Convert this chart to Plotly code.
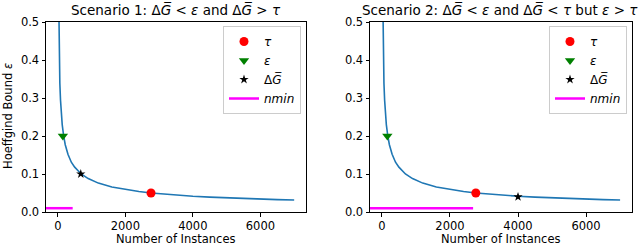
import plotly.graph_objects as go

# Hoeffding bound curve
curve_n = [18, 28, 40, 60, 80, 100, 130, 173, 220, 300, 400, 500, 691, 900,
           1200, 1600, 2000, 2400, 2763, 3200, 3600, 4000, 4500, 5000, 5500,
           6000, 6500, 7000]
curve_eps = [0.62, 0.497, 0.416, 0.339, 0.294, 0.263, 0.230, 0.200, 0.177,
             0.152, 0.131, 0.118, 0.100, 0.088, 0.076, 0.066, 0.059, 0.054,
             0.050, 0.0465, 0.0438, 0.0416, 0.0392, 0.0372, 0.0354, 0.0339,
             0.0326, 0.0314]

# Scenario 1 markers
s1_tau = (2760, 0.05)
s1_eps = (150, 0.2)
s1_dg = (680, 0.1)
s1_nmin_x = [-350, 440]
# Scenario 2 markers
s2_tau = (2760, 0.05)
s2_eps = (160, 0.2)
s2_dg = (4000, 0.04)
s2_nmin_x = [-350, 2680]
nmin_y = 0.01

titles = ["Scenario 1: Δ<i>G̅</i> < <i>ε</i> and Δ<i>G̅</i> > <i>τ</i>",
          "Scenario 2: Δ<i>G̅</i> < <i>ε</i> and Δ<i>G̅</i> < <i>τ</i> but <i>ε</i> > <i>τ</i>"]
x_title = "Number of Instances"
y_title = "Hoeffgind Bound <i>ε</i>"
x_ticks = [0, 2000, 4000, 6000]
y_ticks = [0.0, 0.1, 0.2, 0.3, 0.4, 0.5]

FONT = "DejaVu Sans"
W, H = 640, 247

fig = go.Figure()

scen = [
    (s1_tau, s1_eps, s1_dg, s1_nmin_x, "x", "y", "legend"),
    (s2_tau, s2_eps, s2_dg, s2_nmin_x, "x2", "y2", "legend2"),
]
for tau, eps, dg, nminx, xa, ya, lg in scen:
    fig.add_trace(go.Scatter(x=curve_n, y=curve_eps, mode="lines",
                             line=dict(color="#1f77b4", width=1.6),
                             showlegend=False, xaxis=xa, yaxis=ya, legend=lg))
    fig.add_trace(go.Scatter(x=[tau[0]], y=[tau[1]], mode="markers",
                             marker=dict(symbol="circle", color="red", size=9),
                             name="<i>τ</i>", xaxis=xa, yaxis=ya, legend=lg))
    fig.add_trace(go.Scatter(x=[eps[0]], y=[eps[1]], mode="markers",
                             marker=dict(symbol="triangle-down", color="green", size=9),
                             name="<i>ε</i>", xaxis=xa, yaxis=ya, legend=lg))
    fig.add_trace(go.Scatter(x=[dg[0]], y=[dg[1]], mode="markers",
                             marker=dict(symbol="star", color="black", size=7),
                             name="Δ<i>G̅</i>", xaxis=xa, yaxis=ya, legend=lg))
    fig.add_trace(go.Scatter(x=nminx, y=[nmin_y, nmin_y], mode="lines",
                             line=dict(color="magenta", width=2.5),
                             name="<i>nmin</i>", xaxis=xa, yaxis=ya, legend=lg))

ydom = [35 / H, 225 / H]
axis_common = dict(showline=True, linecolor="black", linewidth=1, mirror=True,
                   ticks="outside", ticklen=3.5, tickwidth=1, tickcolor="black",
                   showgrid=False, zeroline=False, automargin=False,
                   tickfont=dict(family=FONT, size=11.5, color="black"))

legend_common = dict(xanchor="right", yanchor="top",
                     bgcolor="rgba(255,255,255,0.8)", bordercolor="#cccccc",
                     borderwidth=1, font=dict(family=FONT, size=12),
                     itemwidth=30, tracegroupgap=0)

ann = []
title_x = [176, 500]
for i, (x0, x1) in enumerate([(46, 306), (370, 632)]):
    ann.append(dict(text=titles[i], x=title_x[i] / W, y=1 - 10 / H,
                    xref="paper", yref="paper", xanchor="center", yanchor="middle",
                    showarrow=False, font=dict(family=FONT, size=13.5, color="black")))
    ann.append(dict(text=x_title, x=(x0 + x1) / 2 / W, y=1 - 239 / H,
                    xref="paper", yref="paper", xanchor="center", yanchor="middle",
                    showarrow=False, font=dict(family=FONT, size=11.5, color="black")))
ann.append(dict(text=y_title, x=8 / W, y=1 - 116 / H, xref="paper", yref="paper",
                xanchor="center", yanchor="middle", textangle=-90, showarrow=False,
                font=dict(family=FONT, size=11.5, color="black")))

fig.update_layout(
    width=W, height=H,
    margin=dict(l=0, r=0, t=0, b=0, autoexpand=False),
    plot_bgcolor="white", paper_bgcolor="white",
    font=dict(family=FONT, size=11, color="black"),
    xaxis=dict(domain=[46 / W, 306 / W], range=[-350, 7350], tickvals=x_ticks,
               anchor="y", **axis_common),
    yaxis=dict(domain=ydom, range=[0, 0.5], tickvals=y_ticks, tickformat=".1f",
               anchor="x", **axis_common),
    xaxis2=dict(domain=[370 / W, 632 / W], range=[-350, 7350], tickvals=x_ticks,
                anchor="y2", **axis_common),
    yaxis2=dict(domain=ydom, range=[0, 0.5], tickvals=y_ticks, tickformat=".1f",
                anchor="x2", **axis_common),
    legend=dict(x=301 / W, y=1 - 26 / H, **legend_common),
    legend2=dict(x=627 / W, y=1 - 26 / H, **legend_common),
    annotations=ann,
)

fig.write_html("out.html", config={"displayModeBar": False},
               post_script="document.body.style.margin='0px';"
                           "document.body.style.overflow='hidden';")
